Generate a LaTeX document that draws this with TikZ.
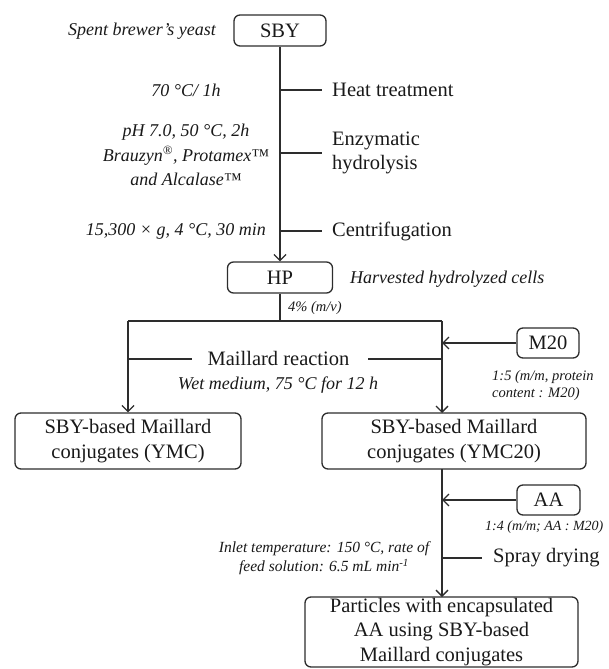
\documentclass[tikz,border=0pt]{standalone}
\usepackage{fontspec}
\setmainfont{Liberation Serif}
\usetikzlibrary{arrows.meta}
\definecolor{lc}{RGB}{45,45,45}
\definecolor{tc}{RGB}{25,25,25}
\begin{document}
\begin{tikzpicture}[x=1pt,y=-1pt,
  box/.style={draw=lc, line width=1.3pt, rounded corners=6pt, inner sep=0pt, text=tc,
              font=\fontsize{20.5}{24.5}\selectfont, align=center},
  mainlbl/.style={font=\fontsize{20.5}{24.5}\selectfont, text=tc, inner sep=0pt, anchor=west, align=left},
  itlbl/.style={font=\fontsize{18}{24.5}\selectfont\itshape, text=tc, inner sep=0pt, align=center},
  smlbl/.style={font=\fontsize{14.5}{17}\selectfont\itshape, text=tc, inner sep=0pt, align=left},
  midlbl/.style={font=\fontsize{15.5}{19}\selectfont\itshape, text=tc, inner sep=0pt, align=center},
  ln/.style={draw=lc, line width=1.3pt},
  arr/.style={ln, -{Straight Barb[length=6pt,width=12pt,line width=1.3pt]}}]
\useasboundingbox (0,0) rectangle (608,669);

% boxes
\node[box, minimum width=92pt, minimum height=31pt] (sby) at (280,30.5) {SBY};
\node[box, minimum width=105pt, minimum height=31pt] (hp) at (280,277.5) {HP};
\node[box, minimum width=226pt, minimum height=56pt] (ymc) at (128,441) {SBY-based Maillard\\conjugates (YMC)};
\node[box, minimum width=264pt, minimum height=56pt] (ymc20) at (454,441) {SBY-based Maillard\\conjugates (YMC20)};
\node[box, minimum width=62pt, minimum height=30pt] (m20) at (548,343) {M20};
\node[box, minimum width=63pt, minimum height=30pt] (aa) at (548.5,500) {AA};
\node[box, minimum width=273pt, minimum height=70pt] (part) at (441.5,632) {Particles with encapsulated\\AA using SBY-based\\Maillard conjugates};

% text labels
\node[itlbl, anchor=east] (spent) at (216,31) {Spent brewer's yeast};
\node[itlbl] (heatc) at (186,90) {70 °C/ 1h};
\node[itlbl] (enzc) at (186,155) {pH 7.0, 50 °C, 2h\\Brauzyn\textsuperscript{®}, Protamex™\\and Alcalase™};
\node[itlbl, anchor=east] (centc) at (266,231) {15,300 × g, 4 °C, 30 min};
\node[mainlbl] (heat) at (332,90) {Heat treatment};
\node[mainlbl] (enz) at (332,153) {Enzymatic\\hydrolysis};
\node[mainlbl] (cent) at (332,231) {Centrifugation};
\node[itlbl, anchor=west] (harv) at (350,279) {Harvested hydrolyzed cells};
\node[smlbl, anchor=west] (conc) at (288,308) {4\% (m/v)};
\node[font=\fontsize{20.5}{24.5}\selectfont, text=tc, inner sep=0pt] (mail) at (278.5,358) {Maillard reaction};
\node[itlbl] (wet) at (278,385) {Wet medium, 75 °C for 12 h};
\node[smlbl, anchor=west] (ratio1) at (492,385.5) {1:5 (m/m, protein\\content : M20)};
\node[smlbl, anchor=west, font=\fontsize{14}{17}\selectfont\itshape] (ratio2) at (485,527) {1:4 (m/m; AA : M20)};
\node[mainlbl] (spray) at (493,558) {Spray drying};
\node[midlbl] (inlet) at (324,558.5) {Inlet temperature: 150 °C, rate of\\feed solution: 6.5 mL min\textsuperscript{-1}};

% junction coordinates
\coordinate (t1) at (280,90);   \coordinate (t1e) at (322,90);
\coordinate (t2) at (280,153);  \coordinate (t2e) at (322,153);
\coordinate (t3) at (280,231);  \coordinate (t3e) at (322,231);
\coordinate (jc) at (280,321);
\coordinate (jl) at (128,321);
\coordinate (jr) at (442,321);
\coordinate (ml) at (128,359);  \coordinate (mle) at (192,359);
\coordinate (mr) at (442,359);  \coordinate (mre) at (368,359);
\coordinate (m20in) at (442,343);
\coordinate (ytop) at (442,413);
\coordinate (ybot) at (442,469);
\coordinate (aain) at (442,500);
\coordinate (s1) at (442,558);  \coordinate (s1e) at (482,558);
\coordinate (ptop) at (442,597);

% connectors
\draw[arr] (sby.south) -- (hp.north);
\draw[ln] (t1) -- (t1e);
\draw[ln] (t2) -- (t2e);
\draw[ln] (t3) -- (t3e);
\draw[ln] (hp.south) -- (jc);
\draw[ln] (jl) -- (jr);
\draw[arr] (jl) -- (ymc.north);
\draw[arr] (jr) -- (ytop);
\draw[ln] (ml) -- (mle);
\draw[ln] (mre) -- (mr);
\draw[arr] (m20.west) -- (m20in);
\draw[arr] (ybot) -- (ptop);
\draw[arr] (aa.west) -- (aain);
\draw[ln] (s1) -- (s1e);
\end{tikzpicture}
\end{document}
